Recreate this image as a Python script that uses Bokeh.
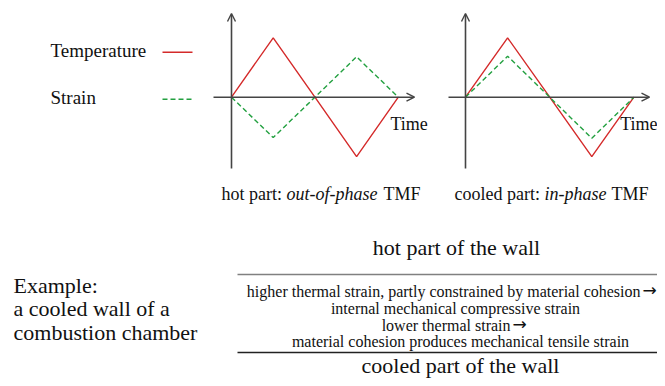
from bokeh.plotting import figure
from bokeh.models import Range1d, Arrow, OpenHead, Label
from bokeh.embed import file_html
from bokeh.resources import INLINE

# ---- data -----------------------------------------------------------
time = [0, 1, 2, 3, 4]
temperature = [0, 1, 0, -1, 0]
strain_hot = [0, -0.68, 0, 0.68, 0]      # out-of-phase
strain_cooled = [0, 0.69, 0, -0.69, 0]   # in-phase

series_names = ["Temperature", "Strain"]
axis_label = "Time"
panel_titles = [["hot part:", "out-of-phase", "TMF"],
                ["cooled part:", "in-phase", "TMF"]]
example_lines = ["Example:", "a cooled wall of a", "combustion chamber"]
wall_top = "hot part of the wall"
wall_bottom = "cooled part of the wall"
wall_lines = ["higher thermal strain, partly constrained by material cohesion",
              "internal mechanical compressive strain",
              "lower thermal strain",
              "material cohesion produces mechanical tensile strain"]
ARROW_CHAR = "\u2192"

# ---- styles ---------------------------------------------------------
RED = "#d42a2a"
GREEN = "#23a040"
AXIS = "#444444"
TXT = "#111111"
FONT = "Liberation Serif"

W, H = 657, 378

p = figure(width=W, height=H, output_backend="svg", toolbar_location=None,
           x_range=Range1d(0, W), y_range=Range1d(H, 0),
           min_border=0, x_axis_location=None, y_axis_location=None,
           background_fill_color="white", border_fill_color="white")
p.grid.visible = False
p.outline_line_color = None


def xr(x0, dx):
    s = -x0 / dx
    return Range1d(s, s + W / dx)


def yr(y0, dy):
    s = -(H - y0) / dy
    return Range1d(s, s + H / dy)


Y0 = 96.7
p.extra_x_ranges = {"hot": xr(231, 41.7), "cool": xr(465, 42.1)}
p.extra_y_ranges = {"val": yr(Y0, 59.4)}

# axes arrows
for (x0, xl, xrgt) in [(231, 213, 414), (465, 448, 649)]:
    p.add_layout(Arrow(end=OpenHead(size=8, line_color=AXIS, line_width=1.4),
                       x_start=x0, y_start=168, x_end=x0, y_end=13,
                       line_color=AXIS, line_width=1.6))
    p.add_layout(Arrow(end=OpenHead(size=8, line_color=AXIS, line_width=1.4),
                       x_start=xl, y_start=Y0, x_end=xrgt, y_end=Y0,
                       line_color=AXIS, line_width=1.6))

# curves
p.line(time, temperature, x_range_name="hot", y_range_name="val",
       line_color=RED, line_width=1.4)
p.line(time, strain_hot, x_range_name="hot", y_range_name="val",
       line_color=GREEN, line_width=1.4, line_dash="5 3")
p.line(time, temperature, x_range_name="cool", y_range_name="val",
       line_color=RED, line_width=1.4)
p.line(time, strain_cooled, x_range_name="cool", y_range_name="val",
       line_color=GREEN, line_width=1.4, line_dash="5 3")

# legend
p.segment(x0=[162], y0=[51.7], x1=[192], y1=[51.7], line_color=RED, line_width=1.5)
p.segment(x0=[162], y0=[98.7], x1=[192], y1=[98.7], line_color=GREEN,
          line_width=1.5, line_dash="5 3")


def lab(x, y, t, size, align="left", style="normal", color=TXT, font=FONT):
    p.add_layout(Label(x=x, y=y, text=t, text_font=font, text_font_size=size,
                       text_align=align, text_baseline="middle",
                       text_font_style=style, text_color=color))


lab(50, 50, series_names[0], "19px")
lab(50, 97, series_names[1], "19px")
lab(390, 123, axis_label, "18px")
lab(657, 123, axis_label, "18px", align="right")

# panel titles
for xs, parts in [((221, 286, 383), panel_titles[0]), ((454, 544, 611), panel_titles[1])]:
    lab(xs[0], 193, parts[0], "18px")
    lab(xs[1], 193, parts[1], "18px", style="italic")
    lab(xs[2], 193, parts[2], "18px")

# example text
for i, t in enumerate(example_lines):
    lab(13, 285 + i * 23.3, t, "22px")

# wall section
lab(456, 246.5, wall_top, "22px", align="center")
lab(460, 364.5, wall_bottom, "22px", align="center")
ys = [290.5, 307.5, 324.5, 340.5]
lab(640, ys[0], wall_lines[0], "16px", align="right")
lab(642, ys[0] - 1, ARROW_CHAR, "17px", font="DejaVu Sans")
lab(455, ys[1], wall_lines[1], "16px", align="center")
lab(510, ys[2], wall_lines[2], "16px", align="right")
lab(512, ys[2] - 1, ARROW_CHAR, "17px", font="DejaVu Sans")
lab(460, ys[3], wall_lines[3], "16px", align="center")

p.segment(x0=[237], y0=[274], x1=[W], y1=[274], line_color="#808080", line_width=1.6)
p.segment(x0=[237], y0=[352], x1=[W], y1=[352], line_color="#222222", line_width=1.6)

open("out.html", "w").write(file_html(p, INLINE))
